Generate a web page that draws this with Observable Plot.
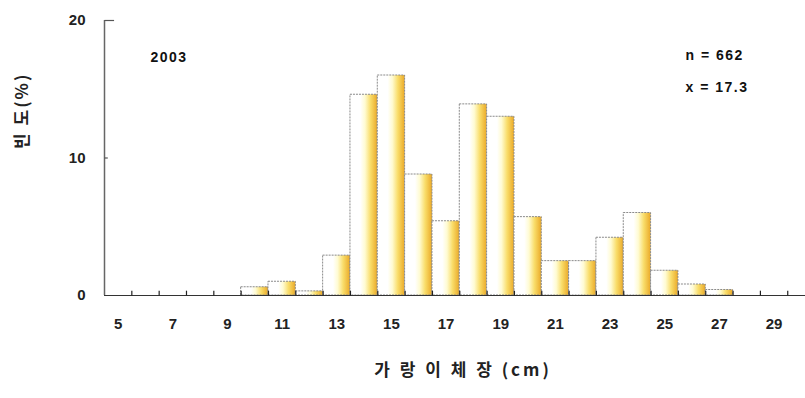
<!DOCTYPE html>
<html>
<head>
<meta charset="utf-8">
<script src="https://cdn.jsdelivr.net/npm/d3@7"></script>
<script src="https://cdn.jsdelivr.net/npm/@observablehq/plot@0.6"></script>
<style>
  html, body { margin: 0; padding: 0; background: #fff; }
  svg { display: block; }
</style>
</head>
<body>
<div id="chart"></div>
<script>
// Data
const lengthClasses = [10, 11, 12, 13, 14, 15, 16, 17, 18, 19, 20, 21, 22, 23, 24, 25, 26, 27];
const frequency = [0.6, 1.0, 0.3, 2.9, 14.6, 16.0, 8.8, 5.4, 13.9, 13.0, 5.7, 2.5, 2.5, 4.2, 6.0, 1.8, 0.8, 0.4];
const xTickLabels = [5, 7, 9, 11, 13, 15, 17, 19, 21, 23, 25, 27, 29];
const xTickBoundaries = [5.5, 6.5, 7.5, 8.5, 9.5, 10.5, 11.5, 12.5, 13.5, 14.5, 15.5, 16.5, 17.5, 18.5, 19.5, 20.5, 21.5, 22.5, 23.5, 24.5, 25.5, 26.5, 27.5, 28.5, 29.5];
const yTickValues = [0, 10, 20];
const yearLabel = "2003";
const statN = "n = 662";
const statMean = "x = 17.3";
const xTitle = "가 랑 이 체 장 (cm)";
const yTitle = "빈 도(%)";

const bars = lengthClasses.map((c, i) => ({cm: c, f: frequency[i]}));

const font = "'Liberation Sans', Arial, sans-serif";
const krFont = "'Noto Sans CJK KR', sans-serif";

const gradientDefs = () => {
  const ns = "http://www.w3.org/2000/svg";
  const g = document.createElementNS(ns, "defs");
  g.innerHTML = `<linearGradient id="barGrad" x1="0" x2="1" y1="0" y2="0">
      <stop offset="0" stop-color="#ffffff"/>
      <stop offset="0.38" stop-color="#ffffff"/>
      <stop offset="0.55" stop-color="#fffbd2"/>
      <stop offset="0.75" stop-color="#f9dd6a"/>
      <stop offset="1" stop-color="#eaa928"/>
    </linearGradient>`;
  return g;
};

const chart = Plot.plot({
  width: 805,
  height: 398,
  marginLeft: 104,
  marginRight: 0,
  marginTop: 20,
  marginBottom: 103,
  style: {fontFamily: font, background: "#fff"},
  x: {domain: [4.5, 30.15], axis: null},
  y: {domain: [0, 20], axis: null},
  marks: [
    gradientDefs,
    Plot.rectY(bars, {
      x1: d => d.cm - 0.5,
      x2: d => d.cm + 0.5,
      y: "f",
      fill: "url(#barGrad)",
      stroke: "#8a8a8a",
      strokeWidth: 1,
      strokeDasharray: "2,1"
    }),
    // x axis baseline
    Plot.ruleY([0], {stroke: "#333", strokeWidth: 1.2}),
    // y axis line
    Plot.ruleX([4.5], {y1: 0, y2: 20, stroke: "#666", strokeWidth: 1.5}),
    // x inward ticks at bin boundaries
    Plot.link(xTickBoundaries, {x1: d => d, x2: d => d, y1: 0, y2: 0.35, stroke: "#222", strokeWidth: 1.2}),
    // x tick labels
    Plot.text(xTickLabels, {x: d => d, y: 0, text: d => String(d), dy: 29, fontSize: 15, fill: "#222", fontWeight: "bold"}),
    // y ticks
    Plot.link(yTickValues.filter(v => v > 0), {x1: 4.5, x2: d => d === 20 ? 4.85 : 4.62, y1: d => d, y2: d => d, stroke: "#555", strokeWidth: 1.2}),
    Plot.text(yTickValues, {x: 4.5, y: d => d, text: d => String(d), textAnchor: "end", dx: -19, fontSize: 15, fill: "#222", fontWeight: "bold"}),
    // annotations
    Plot.text([yearLabel], {frameAnchor: "top-left", dx: 46, dy: 32, text: d => d, fontSize: 14, fontWeight: "bold", fill: "#111", textAnchor: "start"}),
    Plot.text([statN], {frameAnchor: "top-left", dx: 581, dy: 30, text: d => d, fontSize: 14, fontWeight: "bold", fill: "#111", textAnchor: "start"}),
    Plot.text([statMean], {frameAnchor: "top-left", dx: 581, dy: 62, text: d => d, fontSize: 14, fontWeight: "bold", fill: "#111", textAnchor: "start"}),
    // titles
    Plot.text([xTitle], {frameAnchor: "bottom", dx: 8, dy: 80, text: d => d, fontSize: 17, fontWeight: "bold", fill: "#222", fontFamily: krFont}),
    Plot.text([yTitle], {frameAnchor: "left", dx: -82, dy: -9, rotate: -90, text: d => d, fontSize: 17, fontWeight: "bold", fill: "#222", fontFamily: krFont})
  ]
});

// letter spacing as in the reference
const spacing = {[xTitle]: "3px", [yTitle]: "2px", [yearLabel]: "1.5px", [statN]: "1.5px", [statMean]: "1.5px"};
d3.select(chart).selectAll("text")
  .filter(function() { return this.textContent in spacing; })
  .style("letter-spacing", function() { return spacing[this.textContent]; });

document.getElementById("chart").appendChild(chart);
</script>
</body>
</html>
